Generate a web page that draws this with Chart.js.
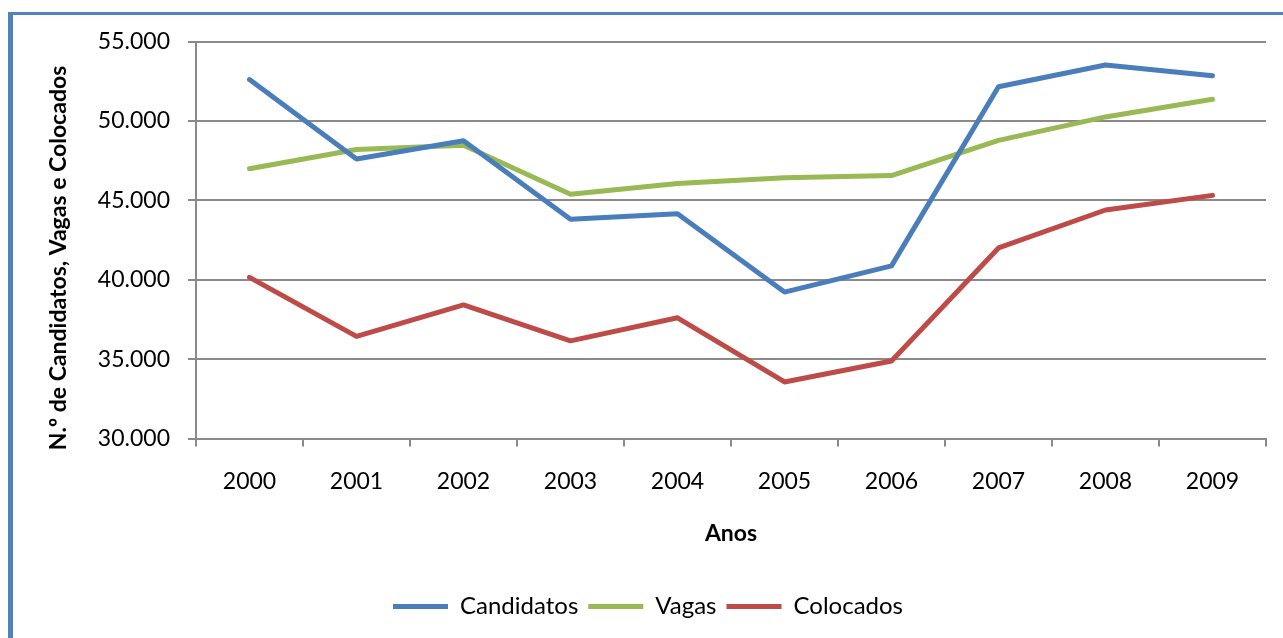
<!DOCTYPE html>
<html>
<head>
<meta charset="utf-8">
<title>Candidatos, Vagas e Colocados</title>
<script src="https://cdn.jsdelivr.net/npm/chart.js@4/dist/chart.umd.min.js"></script>
<style>
  html, body { margin: 0; padding: 0; background: #fff; overflow: hidden; }
  #wrap { position: relative; width: 1283px; height: 638px; }
  #frame {
    position: absolute; left: 8px; top: 12px; width: 1400px; height: 700px;
    border-left: 5px solid #4f81bd; border-top: 3px solid #4f81bd;
    pointer-events: none;
  }
  canvas { position: absolute; left: 0; top: 0; }
</style>
</head>
<body>
<div id="wrap">
  <canvas id="chart" width="1283" height="638"></canvas>
  <div id="frame"></div>
</div>
<script>
// ==========================================
// DATA
// ==========================================
const anos = ['2000', '2001', '2002', '2003', '2004', '2005', '2006', '2007', '2008', '2009'];
const candidatos = [52600, 47600, 48750, 43800, 44150, 39220, 40870, 52150, 53520, 52840];
const vagas      = [46990, 48200, 48470, 45380, 46060, 46420, 46560, 48770, 50250, 51360];
const colocados  = [40150, 36430, 38410, 36150, 37600, 33560, 34880, 42000, 44390, 45310];

const yMin = 30000;
const yMax = 55000;
const yStep = 5000;

const yTitle = 'N.º de Candidatos, Vagas e Colocados';
const xTitle = 'Anos';

// ==========================================
// STYLE
// ==========================================
const FONT = 'Lato, "Noto Sans", sans-serif';
const gridColor = '#8a8a8a';

// numbers like 55.000 (dot as thousands separator)
function fmt(v) {
    return String(v).replace(/\B(?=(\d{3})+(?!\d))/g, '.');
}

function lineSet(label, data, color) {
    return {
        label: label,
        data: data,
        borderColor: color,
        backgroundColor: color,
        borderWidth: 5,
        borderCapStyle: 'round',
        borderJoinStyle: 'round',
        pointRadius: 0,
        pointHoverRadius: 0,
        tension: 0,
        fill: false
    };
}

// rotated y title, drawn a bit lower than the axis centre like the original
const yTitlePlugin = {
    id: 'yTitle',
    afterDraw(chart) {
        const ctx = chart.ctx;
        const area = chart.chartArea;
        ctx.save();
        ctx.translate(59, (area.top + area.bottom) / 2 + 18);
        ctx.rotate(-Math.PI / 2);
        ctx.font = 'bold 23px ' + FONT;
        ctx.fillStyle = '#000';
        ctx.textAlign = 'center';
        ctx.textBaseline = 'middle';
        ctx.fillText(yTitle, 0, 0);
        ctx.restore();
    }
};

const ctx = document.getElementById('chart').getContext('2d');

const myChart = new Chart(ctx, {
    type: 'line',
    data: {
        labels: anos,
        datasets: [
            lineSet('Candidatos', candidatos, '#4a7ebb'),
            lineSet('Vagas', vagas, '#98b954'),
            lineSet('Colocados', colocados, '#be4b48')
        ]
    },
    plugins: [yTitlePlugin],
    options: {
        responsive: false,
        animation: false,
        events: [],
        layout: {
            padding: { left: 30, top: 41.5, right: 17, bottom: 9.5 }
        },
        plugins: {
            tooltip: { enabled: false },
            legend: {
                position: 'bottom',
                labels: {
                    usePointStyle: true,
                    pointStyle: 'line',
                    pointStyleWidth: 55,
                    boxWidth: 55,
                    padding: 10,
                    color: '#000',
                    font: { family: FONT, size: 24 }
                }
            }
        },
        scales: {
            x: {
                offset: true,
                afterFit: function(axis) { axis.height = 146; },
                grid: {
                    offset: true,
                    drawOnChartArea: false,
                    drawTicks: true,
                    tickLength: 8,
                    color: gridColor,
                    lineWidth: 2
                },
                border: { display: true, color: gridColor, width: 2 },
                ticks: {
                    color: '#000',
                    padding: 21,
                    maxRotation: 0,
                    font: { family: FONT, size: 23 }
                },
                title: {
                    display: true,
                    text: xTitle,
                    color: '#000',
                    padding: { top: 0, bottom: 37 },
                    font: { family: FONT, size: 23, weight: 'bold' }
                }
            },
            y: {
                min: yMin,
                max: yMax,
                afterFit: function(axis) { axis.width = 166; },
                grid: {
                    drawTicks: true,
                    tickLength: 8,
                    color: gridColor,
                    lineWidth: 2
                },
                border: { display: true, color: gridColor, width: 2 },
                ticks: {
                    stepSize: yStep,
                    color: '#000',
                    padding: 18,
                    font: { family: FONT, size: 23 },
                    callback: function(value) { return fmt(value); }
                }
            }
        }
    }
});
</script>
</body>
</html>
